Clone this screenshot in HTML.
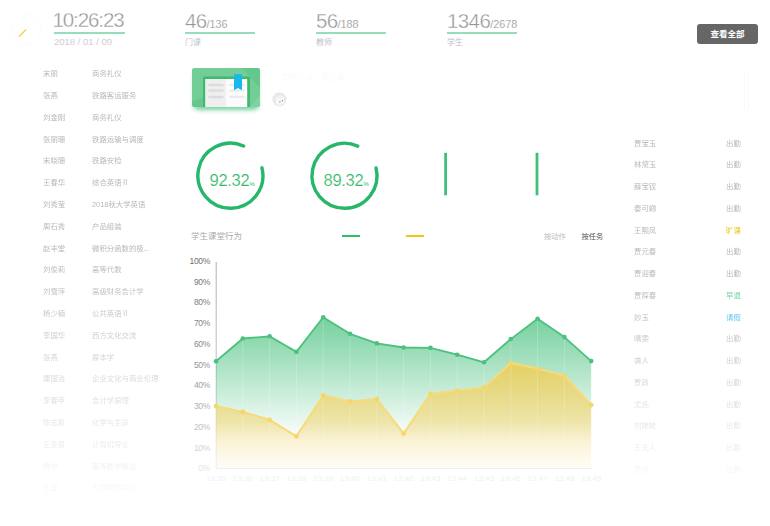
<!DOCTYPE html>
<html lang="zh-CN">
<head>
<meta charset="utf-8">
<title>课堂数据</title>
<style>
*{margin:0;padding:0;box-sizing:border-box}
html,body{width:770px;height:526px;overflow:hidden;background:#fff}
body{position:relative;font-family:"Liberation Sans","Noto Sans CJK SC",sans-serif;color:#999}
.abs{position:absolute;white-space:nowrap}
.stat{position:absolute;top:0;width:72px}
.stat .num{position:absolute;left:0;top:8.6px;font-size:20.5px;line-height:24px;color:#969696;letter-spacing:-0.6px;-webkit-text-stroke:0.35px #fff}
.stat .num small{font-size:10.8px;letter-spacing:0;-webkit-text-stroke:0.15px #fff}
.stat .line{position:absolute;left:0;top:32px;height:1.5px;background:#96debb}
.stat .lbl{position:absolute;left:0;top:37px;font-size:8px;line-height:12px;color:#c2c2c2}
.btn{position:absolute;left:697px;top:24px;width:61px;height:20px;border-radius:3px;background:#666;color:#fff;font-size:8.5px;line-height:21px;text-align:center;font-weight:bold}
.list{position:absolute;left:0;top:0;width:770px;height:526px;font-size:7.4px;line-height:10px}
.list div{position:absolute;white-space:nowrap}
.leftlist{color:#b8b8b8;filter:blur(0.55px);-webkit-mask-image:linear-gradient(to bottom,#000 0,#000 250px,rgba(0,0,0,0.08) 495px,rgba(0,0,0,0) 510px)}
.rightlist{color:#b8b8b8;filter:blur(0.55px);-webkit-mask-image:linear-gradient(to bottom,#000 0,#000 290px,rgba(0,0,0,0.08) 480px,rgba(0,0,0,0) 500px)}
.rightlist .y{color:#f0c419}
.rightlist .g{color:#6fd39d}
.rightlist .b{color:#4cbdec}
.book{position:absolute;left:192px;top:68px;width:68px;height:39px;border-radius:3px;overflow:hidden;background:#72cd97;box-shadow:0 3px 4px -1px rgba(70,195,125,0.4)}
.ring .pct{position:absolute;color:#30b866;font-size:16.5px;line-height:16px;letter-spacing:-0.3px;-webkit-text-stroke:0.2px #fff}
.ring .pct small{font-size:6px;letter-spacing:0;margin-left:0.3px;-webkit-text-stroke:0}
.fade{position:absolute;left:0;top:0;width:770px;height:526px;pointer-events:none}
</style>
</head>
<body>

<!-- clock icon -->
<svg class="abs" style="left:0;top:0" width="60" height="60" viewBox="0 0 60 60">
  <circle cx="26" cy="29" r="15" fill="none" stroke="#fcfcfc" stroke-width="1"/>
  <line x1="19.3" y1="36.3" x2="25.9" y2="29.7" stroke="#f6d04a" stroke-width="1.3" stroke-linecap="round"/>
</svg>

<!-- header stats -->
<div class="stat" style="left:54px"><div class="num" style="letter-spacing:-1.1px;left:-1.5px;top:7.8px">10:26:23</div><div class="line" style="width:71px"></div><div class="lbl" style="font-size:9.5px;top:36px;color:#bdbdbd;-webkit-text-stroke:0.2px #fff">2018 / 01 / 09</div></div>
<div class="stat" style="left:185px"><div class="num">46<small>/136</small></div><div class="line" style="width:70px"></div><div class="lbl">门课</div></div>
<div class="stat" style="left:316px"><div class="num">56<small>/188</small></div><div class="line" style="width:70px"></div><div class="lbl">教师</div></div>
<div class="stat" style="left:447px"><div class="num">1346<small>/2678</small></div><div class="line" style="width:70px"></div><div class="lbl">学生</div></div>

<div class="btn">查看全部</div>

<!-- left list -->
<div class="list leftlist">
<div style="left:43px;top:69.2px">宋丽</div><div style="left:92px;top:69.2px">商务礼仪</div>
<div style="left:43px;top:91.0px">张燕</div><div style="left:92px;top:91.0px">铁路客运服务</div>
<div style="left:43px;top:112.8px">刘金刚</div><div style="left:92px;top:112.8px">商务礼仪</div>
<div style="left:43px;top:134.6px">张丽珊</div><div style="left:92px;top:134.6px">铁路运输与调度</div>
<div style="left:43px;top:156.4px">宋晓珊</div><div style="left:92px;top:156.4px">铁路安检</div>
<div style="left:43px;top:178.2px">王春华</div><div style="left:92px;top:178.2px">综合英语Ⅱ</div>
<div style="left:43px;top:200.0px">刘秀莹</div><div style="left:92px;top:200.0px">2018秋大学英语</div>
<div style="left:43px;top:221.8px">周石秀</div><div style="left:92px;top:221.8px">产品组装</div>
<div style="left:43px;top:243.6px">赵丰堂</div><div style="left:92px;top:243.6px">微积分函数的极<span style="letter-spacing:-0.5px">...</span></div>
<div style="left:43px;top:265.4px">刘俊莉</div><div style="left:92px;top:265.4px">高等代数</div>
<div style="left:43px;top:287.2px">刘雪萍</div><div style="left:92px;top:287.2px">高级财务会计学</div>
<div style="left:43px;top:309.0px">杨少楠</div><div style="left:92px;top:309.0px">公共英语Ⅱ</div>
<div style="left:43px;top:330.8px">李国华</div><div style="left:92px;top:330.8px">西方文化交流</div>
<div style="left:43px;top:352.6px">张燕</div><div style="left:92px;top:352.6px">原本学</div>
<div style="left:43px;top:374.4px">康国治</div><div style="left:92px;top:374.4px">企业文化与商业伦理</div>
<div style="left:43px;top:396.2px">李春苹</div><div style="left:92px;top:396.2px">会计学原理</div>
<div style="left:43px;top:418.0px">陈志新</div><div style="left:92px;top:418.0px">化学与生命</div>
<div style="left:43px;top:439.8px">王亚君</div><div style="left:92px;top:439.8px">计算机导论</div>
<div style="left:43px;top:461.6px">杨宁</div><div style="left:92px;top:461.6px">高等数学概论</div>
<div style="left:43px;top:483.4px">王磊</div><div style="left:92px;top:483.4px">大学物理实验</div>
</div>

<!-- book card -->
<div class="abs" style="left:196px;top:101px;width:60px;height:6px;border-radius:3px;background:#9fe0ba;box-shadow:0 2px 4px 1px rgba(90,200,140,0.6)"></div>
<div class="book">
  <svg width="68" height="39" viewBox="0 0 68 39" style="position:absolute;left:0;top:0">
    <rect x="0" y="0" width="68" height="39" fill="#72cd97"/>
    <polygon points="50,0 68,0 68,20" fill="#66c78c"/>
    <polygon points="0,34 12,28.5 12,39 0,39" fill="#66c78c"/>
    <polygon points="58,39 68,27 68,39" fill="#7dd3a2"/>
    <rect x="11" y="8.4" width="47" height="33" rx="1.8" fill="#3dba6b"/>
    <rect x="13.2" y="11" width="20.8" height="30" fill="#efefef"/>
    <rect x="34" y="11" width="21.2" height="30" fill="#fcfcfc"/>
    <rect x="16.4" y="15.8" width="15" height="2.4" fill="#dcdcdc"/>
    <rect x="16.4" y="21.4" width="15" height="2.4" fill="#dcdcdc"/>
    <rect x="16.4" y="27.8" width="15" height="2.4" fill="#dcdcdc"/>
    <rect x="37.1" y="15.8" width="15.5" height="2.2" fill="#ebebeb"/>
    <rect x="37.1" y="21.4" width="15.5" height="2.2" fill="#ebebeb"/>
    <rect x="37.1" y="27.8" width="15.5" height="2.2" fill="#ebebeb"/>
    <polygon points="42,6.2 50,6.2 50,22.2 46,20 42,22.2" fill="#17b9ea"/>
  </svg>
</div>
<!-- small round icon -->
<svg class="abs" style="left:271px;top:91px" width="17" height="17" viewBox="0 0 17 17">
  <circle cx="8.4" cy="8.4" r="7.1" fill="#e9e9e9"/>
  <polygon points="5,6.2 10,4.2 13,6.2 13,12 8.2,14.4 5,12.4" fill="#f9f9f9"/>
  <polygon points="5,6.2 10,4.2 13,6.2 8.2,8.2" fill="#f1f1f1"/>
  <rect x="8.3" y="10.4" width="1.2" height="1.2" fill="#8a8a8a"/>
  <rect x="10.8" y="9" width="1.1" height="1.3" fill="#8a8a8a"/>
</svg>

<!-- faint items -->
<div class="abs" style="left:282px;top:73px;font-size:8px;line-height:10px;color:#fbfbfb">商务礼仪 · 第三章</div>
<div class="abs" style="left:744px;top:71px;width:5px;height:40px;border:1px solid #f8faf9;border-radius:3px"></div>

<!-- rings -->
<svg class="abs" style="left:0;top:0" width="600" height="230" viewBox="0 0 600 230">
  <path d="M261.93,167.84 A32.5,32.5 0 1 1 243.62,146.01" fill="none" stroke="#27b76b" stroke-width="3.4" stroke-linecap="round"/>
  <path d="M376.03,167.94 A32.5,32.5 0 1 1 357.72,146.11" fill="none" stroke="#27b76b" stroke-width="3.4" stroke-linecap="round"/>
  <line x1="445.6" y1="152.8" x2="445.6" y2="195.3" stroke="#3cc07a" stroke-width="2.8"/>
  <line x1="537" y1="152.8" x2="537" y2="195.3" stroke="#3cc07a" stroke-width="2.8"/>
</svg>
<div class="ring">
  <div class="pct abs" style="left:209.5px;top:172.3px">92.32<small>%</small></div>
  <div class="pct abs" style="left:323.5px;top:172.3px">89.32<small>%</small></div>
</div>

<!-- chart header -->
<div class="abs" style="left:191px;top:230px;font-size:8.5px;line-height:12px;color:#aaa">学生课堂行为</div>
<div class="abs" style="left:342px;top:235px;width:18px;height:2px;background:#2fbf6d"></div>
<div class="abs" style="left:406px;top:235px;width:18px;height:2px;background:#f5c518"></div>
<div class="abs" style="left:544px;top:231px;font-size:7.3px;line-height:12px;color:#bbb">按动作</div>
<div class="abs" style="left:581.5px;top:231px;font-size:7.3px;line-height:12px;color:#555">按任务</div>

<!-- chart -->
<svg class="abs" style="left:0;top:0" width="770" height="526" viewBox="0 0 770 526">
<defs><linearGradient id="gg" gradientUnits="userSpaceOnUse" x1="0" y1="317" x2="0" y2="440"><stop offset="0" stop-color="#5cc88c" stop-opacity="0.85"/><stop offset="1" stop-color="#5cc88c" stop-opacity="0"/></linearGradient>
<linearGradient id="yg" gradientUnits="userSpaceOnUse" x1="0" y1="363" x2="0" y2="470"><stop offset="0" stop-color="#e9cf5c" stop-opacity="0.95"/><stop offset="0.55" stop-color="#f0dc8a" stop-opacity="0.7"/><stop offset="1" stop-color="#fdf6dd" stop-opacity="0.25"/></linearGradient><linearGradient id="ax" gradientUnits="userSpaceOnUse" x1="0" y1="262" x2="0" y2="468"><stop offset="0" stop-color="#b0b0b0"/><stop offset="0.5" stop-color="#c0c0c0"/><stop offset="1" stop-color="#eeeeee"/></linearGradient></defs>
<line x1="216.2" y1="262" x2="216.2" y2="468" stroke="url(#ax)" stroke-width="1"/>
<polygon points="216.0,468 216.0,361.2 242.8,338.5 269.6,336.3 296.4,351.9 323.2,317.3 350.0,333.8 376.8,343.4 403.6,347.5 430.4,347.9 457.2,354.7 484.0,362.3 510.8,339.1 537.6,318.7 564.4,337.1 591.2,361.1 591.2,468" fill="url(#gg)"/>
<polygon points="216.0,468 216.0,406.1 242.8,412.0 269.6,419.8 296.4,436.3 323.2,395.5 350.0,401.4 376.8,398.9 403.6,433.6 430.4,393.8 457.2,390.6 484.0,387.4 510.8,363.0 537.6,368.6 564.4,375.8 591.2,405.0 591.2,468" fill="url(#yg)"/>
<line x1="242.8" y1="262" x2="242.8" y2="468" stroke="#fff" stroke-opacity="0.35" stroke-width="0.6"/>
<line x1="269.6" y1="262" x2="269.6" y2="468" stroke="#fff" stroke-opacity="0.35" stroke-width="0.6"/>
<line x1="296.4" y1="262" x2="296.4" y2="468" stroke="#fff" stroke-opacity="0.35" stroke-width="0.6"/>
<line x1="323.2" y1="262" x2="323.2" y2="468" stroke="#fff" stroke-opacity="0.35" stroke-width="0.6"/>
<line x1="350.0" y1="262" x2="350.0" y2="468" stroke="#fff" stroke-opacity="0.35" stroke-width="0.6"/>
<line x1="376.8" y1="262" x2="376.8" y2="468" stroke="#fff" stroke-opacity="0.35" stroke-width="0.6"/>
<line x1="403.6" y1="262" x2="403.6" y2="468" stroke="#fff" stroke-opacity="0.35" stroke-width="0.6"/>
<line x1="430.4" y1="262" x2="430.4" y2="468" stroke="#fff" stroke-opacity="0.35" stroke-width="0.6"/>
<line x1="457.2" y1="262" x2="457.2" y2="468" stroke="#fff" stroke-opacity="0.35" stroke-width="0.6"/>
<line x1="484.0" y1="262" x2="484.0" y2="468" stroke="#fff" stroke-opacity="0.35" stroke-width="0.6"/>
<line x1="510.8" y1="262" x2="510.8" y2="468" stroke="#fff" stroke-opacity="0.35" stroke-width="0.6"/>
<line x1="537.6" y1="262" x2="537.6" y2="468" stroke="#fff" stroke-opacity="0.35" stroke-width="0.6"/>
<line x1="564.4" y1="262" x2="564.4" y2="468" stroke="#fff" stroke-opacity="0.35" stroke-width="0.6"/>
<line x1="591.2" y1="262" x2="591.2" y2="468" stroke="#fff" stroke-opacity="0.35" stroke-width="0.6"/>
<polyline points="216.0,361.2 242.8,338.5 269.6,336.3 296.4,351.9 323.2,317.3 350.0,333.8 376.8,343.4 403.6,347.5 430.4,347.9 457.2,354.7 484.0,362.3 510.8,339.1 537.6,318.7 564.4,337.1 591.2,361.1" fill="none" stroke="#4cc07e" stroke-width="1.8" stroke-linejoin="round"/>
<polyline points="216.0,406.1 242.8,412.0 269.6,419.8 296.4,436.3 323.2,395.5 350.0,401.4 376.8,398.9 403.6,433.6 430.4,393.8 457.2,390.6 484.0,387.4 510.8,363.0 537.6,368.6 564.4,375.8 591.2,405.0" fill="none" stroke="#f9da78" stroke-width="2" stroke-linejoin="round"/>
<circle cx="216.0" cy="361.2" r="2.3" fill="#4cc07e"/>
<circle cx="242.8" cy="338.5" r="2.3" fill="#4cc07e"/>
<circle cx="269.6" cy="336.3" r="2.3" fill="#4cc07e"/>
<circle cx="296.4" cy="351.9" r="2.3" fill="#4cc07e"/>
<circle cx="323.2" cy="317.3" r="2.3" fill="#4cc07e"/>
<circle cx="350.0" cy="333.8" r="2.3" fill="#4cc07e"/>
<circle cx="376.8" cy="343.4" r="2.3" fill="#4cc07e"/>
<circle cx="403.6" cy="347.5" r="2.3" fill="#4cc07e"/>
<circle cx="430.4" cy="347.9" r="2.3" fill="#4cc07e"/>
<circle cx="457.2" cy="354.7" r="2.3" fill="#4cc07e"/>
<circle cx="484.0" cy="362.3" r="2.3" fill="#4cc07e"/>
<circle cx="510.8" cy="339.1" r="2.3" fill="#4cc07e"/>
<circle cx="537.6" cy="318.7" r="2.3" fill="#4cc07e"/>
<circle cx="564.4" cy="337.1" r="2.3" fill="#4cc07e"/>
<circle cx="591.2" cy="361.1" r="2.3" fill="#4cc07e"/>
<circle cx="216.0" cy="406.1" r="2.4" fill="#f7d668"/>
<circle cx="242.8" cy="412.0" r="2.4" fill="#f7d668"/>
<circle cx="269.6" cy="419.8" r="2.4" fill="#f7d668"/>
<circle cx="296.4" cy="436.3" r="2.4" fill="#f7d668"/>
<circle cx="323.2" cy="395.5" r="2.4" fill="#f7d668"/>
<circle cx="350.0" cy="401.4" r="2.4" fill="#f7d668"/>
<circle cx="376.8" cy="398.9" r="2.4" fill="#f7d668"/>
<circle cx="403.6" cy="433.6" r="2.4" fill="#f7d668"/>
<circle cx="430.4" cy="393.8" r="2.4" fill="#f7d668"/>
<circle cx="457.2" cy="390.6" r="2.4" fill="#f7d668"/>
<circle cx="484.0" cy="387.4" r="2.4" fill="#f7d668"/>
<circle cx="510.8" cy="363.0" r="2.4" fill="#f7d668"/>
<circle cx="537.6" cy="368.6" r="2.4" fill="#f7d668"/>
<circle cx="564.4" cy="375.8" r="2.4" fill="#f7d668"/>
<circle cx="591.2" cy="405.0" r="2.4" fill="#f7d668"/>
<line x1="216" y1="468.5" x2="592" y2="468.5" stroke="#efefef" stroke-width="1"/>
<text x="210" y="471.2" text-anchor="end" font-size="8.5" letter-spacing="-0.3" fill="#e6e6e6">0%</text>
<text x="210" y="450.5" text-anchor="end" font-size="8.5" letter-spacing="-0.3" fill="#d4d4d4">10%</text>
<text x="210" y="429.7" text-anchor="end" font-size="8.5" letter-spacing="-0.3" fill="#c3c3c3">20%</text>
<text x="210" y="409.0" text-anchor="end" font-size="8.5" letter-spacing="-0.3" fill="#b2b2b2">30%</text>
<text x="210" y="388.3" text-anchor="end" font-size="8.5" letter-spacing="-0.3" fill="#a3a3a3">40%</text>
<text x="210" y="367.6" text-anchor="end" font-size="8.5" letter-spacing="-0.3" fill="#959595">50%</text>
<text x="210" y="346.8" text-anchor="end" font-size="8.5" letter-spacing="-0.3" fill="#8a8a8a">60%</text>
<text x="210" y="326.1" text-anchor="end" font-size="8.5" letter-spacing="-0.3" fill="#848484">70%</text>
<text x="210" y="305.4" text-anchor="end" font-size="8.5" letter-spacing="-0.3" fill="#7e7e7e">80%</text>
<text x="210" y="284.6" text-anchor="end" font-size="8.5" letter-spacing="-0.3" fill="#777777">90%</text>
<text x="210" y="263.9" text-anchor="end" font-size="8.5" letter-spacing="-0.3" fill="#707070">100%</text>
<text x="216.0" y="481" text-anchor="middle" font-size="8" fill="#f1f1f1">13:35</text>
<text x="242.8" y="481" text-anchor="middle" font-size="8" fill="#f1f1f1">13:36</text>
<text x="269.6" y="481" text-anchor="middle" font-size="8" fill="#f1f1f1">13:37</text>
<text x="296.4" y="481" text-anchor="middle" font-size="8" fill="#f1f1f1">13:38</text>
<text x="323.2" y="481" text-anchor="middle" font-size="8" fill="#f1f1f1">13:39</text>
<text x="350.0" y="481" text-anchor="middle" font-size="8" fill="#f1f1f1">13:40</text>
<text x="376.8" y="481" text-anchor="middle" font-size="8" fill="#f1f1f1">13:41</text>
<text x="403.6" y="481" text-anchor="middle" font-size="8" fill="#f1f1f1">13:42</text>
<text x="430.4" y="481" text-anchor="middle" font-size="8" fill="#f1f1f1">13:43</text>
<text x="457.2" y="481" text-anchor="middle" font-size="8" fill="#f1f1f1">13:44</text>
<text x="484.0" y="481" text-anchor="middle" font-size="8" fill="#f1f1f1">13:45</text>
<text x="510.8" y="481" text-anchor="middle" font-size="8" fill="#f1f1f1">13:46</text>
<text x="537.6" y="481" text-anchor="middle" font-size="8" fill="#f1f1f1">13:47</text>
<text x="564.4" y="481" text-anchor="middle" font-size="8" fill="#f1f1f1">13:48</text>
<text x="591.2" y="481" text-anchor="middle" font-size="8" fill="#f1f1f1">13:49</text>
</svg>

<!-- right list -->
<div class="list rightlist">
<div style="left:634px;top:138.5px">贾宝玉</div><div style="left:726px;top:138.5px">出勤</div>
<div style="left:634px;top:160.2px">林黛玉</div><div style="left:726px;top:160.2px">出勤</div>
<div style="left:634px;top:182.0px">薛宝钗</div><div style="left:726px;top:182.0px">出勤</div>
<div style="left:634px;top:203.8px">秦可卿</div><div style="left:726px;top:203.8px">出勤</div>
<div style="left:634px;top:225.5px">王熙凤</div><div class="y" style="left:726px;top:225.5px">旷课</div>
<div style="left:634px;top:247.2px">贾元春</div><div style="left:726px;top:247.2px">出勤</div>
<div style="left:634px;top:269.0px">贾迎春</div><div style="left:726px;top:269.0px">出勤</div>
<div style="left:634px;top:290.8px">贾探春</div><div class="g" style="left:726px;top:290.8px">早退</div>
<div style="left:634px;top:312.5px">妙玉</div><div class="b" style="left:726px;top:312.5px">请假</div>
<div style="left:634px;top:334.2px">晴雯</div><div style="left:726px;top:334.2px">出勤</div>
<div style="left:634px;top:356.0px">袭人</div><div style="left:726px;top:356.0px">出勤</div>
<div style="left:634px;top:377.8px">贾政</div><div style="left:726px;top:377.8px">出勤</div>
<div style="left:634px;top:399.5px">尤氏</div><div style="left:726px;top:399.5px">出勤</div>
<div style="left:634px;top:421.2px">刘姥姥</div><div style="left:726px;top:421.2px">出勤</div>
<div style="left:634px;top:443.0px">王夫人</div><div style="left:726px;top:443.0px">出勤</div>
<div style="left:634px;top:464.8px">贾琏</div><div style="left:726px;top:464.8px">出勤</div>
</div>

<!-- bottom fade -->


</body>
</html>
